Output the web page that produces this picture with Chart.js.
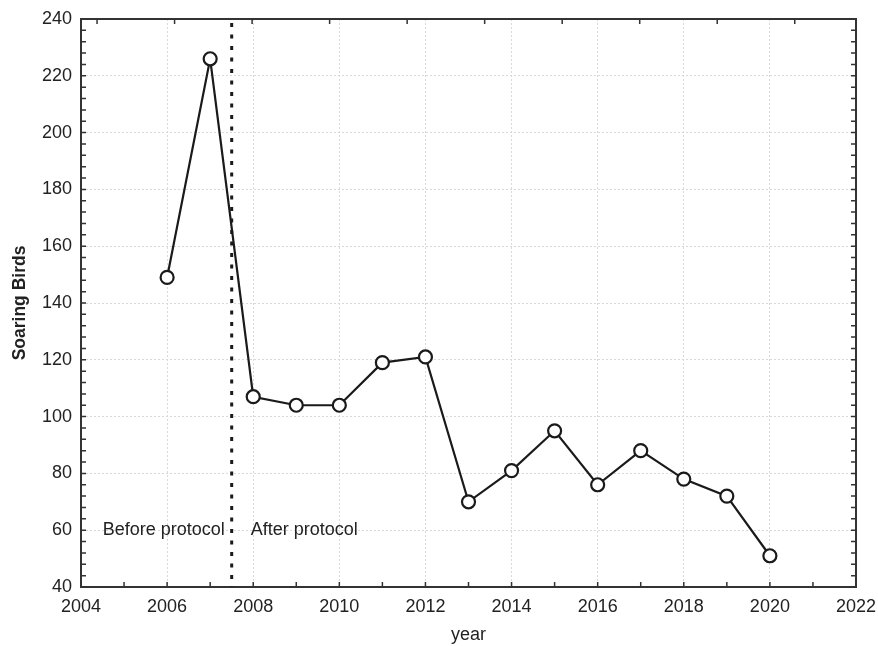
<!DOCTYPE html>
<html>
<head>
<meta charset="utf-8">
<script src="https://cdn.jsdelivr.net/npm/chart.js@4"></script>
<style>
  html, body { margin: 0; padding: 0; background: #fff; }
  #wrap { width: 878px; height: 646px; }
</style>
</head>
<body>
<div id="wrap"><canvas id="chart" width="878" height="646"></canvas></div>
<script>
// Annual counts of soaring birds
const years = [2006, 2007, 2008, 2009, 2010, 2011, 2012, 2013, 2014, 2015, 2016, 2017, 2018, 2019, 2020];
const soaringBirds = [149, 226, 107, 104, 104, 119, 121, 70, 81, 95, 76, 88, 78, 72, 51];
const periodLabels = ['Before protocol', 'After protocol'];
const protocolYear = 2007.5;

const INK = '#222222';
const FRAME = '#333333';
const FONT = 'Liberation Sans, Arial, sans-serif';

// inward tick marks on all four sides, plus the protocol divider and its labels
const framePlugin = {
  id: 'framePlugin',
  beforeDatasetsDraw(chart) {
    const { ctx, chartArea: a, scales } = chart;
    const x = scales.x.getPixelForValue(protocolYear);
    ctx.save();
    ctx.strokeStyle = '#1a1a1a';
    ctx.lineWidth = 3;
    ctx.setLineDash([4, 7.5]);
    ctx.beginPath();
    ctx.moveTo(x, a.top + 4);
    ctx.lineTo(x, a.bottom);
    ctx.stroke();
    ctx.restore();

    const yLab = scales.y.getPixelForValue(60);
    ctx.save();
    ctx.fillStyle = INK;
    ctx.font = '18px ' + FONT;
    ctx.textBaseline = 'middle';
    ctx.textAlign = 'right';
    ctx.fillText(periodLabels[0], scales.x.getPixelForValue(protocolYear - 0.16), yLab);
    ctx.textAlign = 'left';
    ctx.fillText(periodLabels[1], scales.x.getPixelForValue(protocolYear + 0.44), yLab);
    ctx.restore();
  },
  afterDraw(chart) {
    const { ctx, chartArea: a, scales } = chart;
    const len = 5;
    ctx.save();
    ctx.strokeStyle = FRAME;
    ctx.lineWidth = 1.5;
    ctx.beginPath();
    scales.x.ticks.forEach(t => {
      const px = scales.x.getPixelForValue(t.value);
      ctx.moveTo(px, a.bottom);
      ctx.lineTo(px, a.bottom - len);
    });
    scales.x2.ticks.forEach(t => {
      const px = scales.x2.getPixelForValue(t.value);
      ctx.moveTo(px, a.top);
      ctx.lineTo(px, a.top + len);
    });
    scales.y.ticks.forEach(t => {
      const py = scales.y.getPixelForValue(t.value);
      ctx.moveTo(a.left, py);
      ctx.lineTo(a.left + len, py);
      ctx.moveTo(a.right, py);
      ctx.lineTo(a.right - len, py);
    });
    ctx.stroke();
    ctx.restore();
  }
};

const gridColor = (ctx, major) =>
  (ctx.tick && ctx.tick.value % major === 0) ? '#d9d9d9' : 'rgba(0,0,0,0)';

new Chart(document.getElementById('chart'), {
  type: 'line',
  data: {
    datasets: [{
      data: years.map((yr, i) => ({ x: yr, y: soaringBirds[i] })),
      borderColor: '#1a1a1a',
      borderWidth: 2.2,
      pointRadius: 6.5,
      pointHoverRadius: 6.5,
      pointBorderWidth: 2.2,
      pointBackgroundColor: '#ffffff',
      pointBorderColor: '#1a1a1a',
      tension: 0
    }]
  },
  options: {
    responsive: false,
    animation: false,
    layout: { padding: { top: 19, right: 22, left: 0, bottom: 0 } },
    plugins: { legend: { display: false }, tooltip: { enabled: false } },
    scales: {
      x: {
        type: 'linear',
        position: 'bottom',
        min: 2004, max: 2022,
        afterFit(s) { s.height = 59; s.paddingLeft = 0; s.paddingRight = 0; },
        ticks: {
          stepSize: 1,
          autoSkip: false,
          maxRotation: 0,
          padding: 9,
          color: INK,
          font: { family: FONT, size: 18 },
          callback: v => (v % 2 === 0 ? String(v) : '')
        },
        grid: { drawTicks: false, color: c => gridColor(c, 2), lineWidth: 1 },
        border: { display: true, color: FRAME, width: 2, dash: [2, 2] },
        title: {
          display: true, text: 'year', color: INK,
          font: { family: FONT, size: 18 },
          padding: { top: 0, bottom: 0 }
        }
      },
      x2: {
        type: 'linear',
        position: 'top',
        min: -0.207, max: 9.79,
        afterFit(s) { s.height = 0; s.paddingLeft = 0; s.paddingRight = 0; },
        ticks: { display: false, stepSize: 1, includeBounds: false },
        grid: { display: false, drawTicks: false },
        border: { display: true, color: FRAME, width: 2 }
      },
      y: {
        type: 'linear',
        position: 'left',
        min: 40, max: 240,
        afterFit(s) { s.width = 81; s.paddingTop = 0; s.paddingBottom = 0; },
        ticks: {
          stepSize: 4,
          autoSkip: false,
          padding: 9,
          color: INK,
          font: { family: FONT, size: 18 },
          callback: v => (v % 20 === 0 ? String(v) : '')
        },
        grid: { drawTicks: false, color: c => gridColor(c, 20), lineWidth: 1 },
        border: { display: true, color: FRAME, width: 2, dash: [2, 2] },
        title: {
          display: true, text: 'Soaring Birds', color: INK,
          font: { family: FONT, size: 17.5, weight: 'bold' },
          padding: { top: 10, bottom: 0 }
        }
      },
      y2: {
        type: 'linear',
        position: 'right',
        min: 40, max: 240,
        afterFit(s) { s.width = 0; s.paddingTop = 0; s.paddingBottom = 0; },
        ticks: { display: false, stepSize: 4 },
        grid: { display: false, drawTicks: false },
        border: { display: true, color: FRAME, width: 2 }
      }
    }
  },
  plugins: [framePlugin]
});
</script>
</body>
</html>
